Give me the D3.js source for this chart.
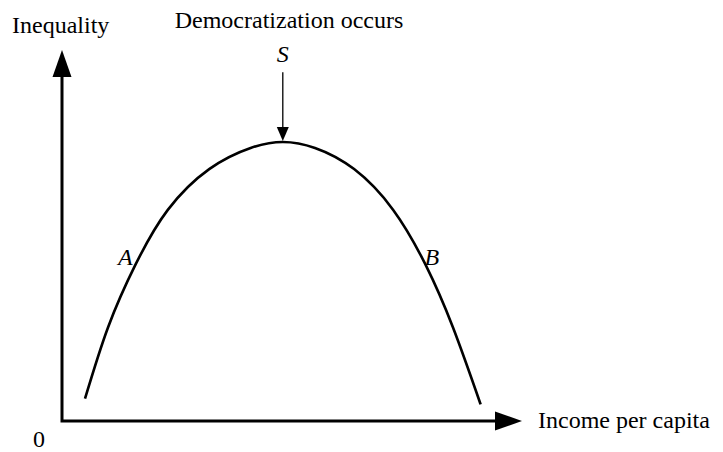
<!DOCTYPE html>
<html>
<head>
<meta charset="utf-8">
<script src="https://cdn.jsdelivr.net/npm/d3@7"></script>
<style>
  body { margin: 0; background: #fff; }
  text { font-family: "Liberation Serif", "Times New Roman", serif; fill: #000; }
</style>
</head>
<body>
<div id="chart"></div>
<script>
// Curve points (arbitrary 0-100 units)
const income = [5, 10, 16, 23, 32, 41, 48, 55, 63.5, 72, 79, 85, 91];
const inequality = [6, 25.2, 42.2, 56.9, 67.9, 73.6, 75.2, 73.6, 67.9, 56.9, 42.2, 25.2, 4.5];

// Annotation points
const pointLabels = ["A", "B"];
const pointIndex = [2, 10];
const peakIndex = 6;
const arrowTop = 94;

// Set the dimensions of the graph
const width = 723, height = 452;

const svg = d3.select("#chart")
    .append("svg")
    .attr("width", width)
    .attr("height", height);

// Scales: domain max is where the axis arrow tips are
const x = d3.scaleLinear().domain([0, 100]).range([62, 522]);
const y = d3.scaleLinear().domain([0, 100]).range([421, 50]);

const data = income.map((d, i) => ({ income: d, inequality: inequality[i] }));

// Axes (plain arrows, no ticks)
const headLen = 27, headHalf = 9.5;
svg.append("path")
    .attr("d", `M${x(0)},${y(100) + headLen - 2}V${y(0)}H${x(100) - headLen + 2}`)
    .attr("fill", "none")
    .attr("stroke", "#000")
    .attr("stroke-width", 3)
    .attr("stroke-linejoin", "miter");

// Y arrowhead
svg.append("path")
    .attr("d", `M${x(0)},${y(100)}L${x(0) + headHalf},${y(100) + headLen}L${x(0) - headHalf},${y(100) + headLen}Z`)
    .attr("fill", "#000");

// X arrowhead
svg.append("path")
    .attr("d", `M${x(100)},${y(0)}L${x(100) - headLen},${y(0) - headHalf}L${x(100) - headLen},${y(0) + headHalf}Z`)
    .attr("fill", "#000");

// The curve
svg.append("path")
    .datum(data)
    .attr("fill", "none")
    .attr("stroke", "#000")
    .attr("stroke-width", 2.6)
    .attr("d", d3.line()
        .x(d => x(d.income))
        .y(d => y(d.inequality))
        .curve(d3.curveNatural));

// Arrow to the peak
const peak = data[peakIndex];
const px = x(peak.income), py = y(peak.inequality) - 1;
svg.append("line")
    .attr("x1", px).attr("x2", px)
    .attr("y1", y(arrowTop)).attr("y2", py - 10)
    .attr("stroke", "#000")
    .attr("stroke-width", 1.3);
svg.append("path")
    .attr("d", `M${px},${py}L${px - 6},${py - 14}L${px + 6},${py - 14}Z`)
    .attr("fill", "#000");

// Texts
svg.append("text").attr("x", 12).attr("y", 33).style("font-size", "24px").text("Inequality");
svg.append("text").attr("x", 289).attr("y", 28).attr("text-anchor", "middle").style("font-size", "24px").text("Democratization occurs");
svg.append("text").attr("x", px).attr("y", 62).attr("text-anchor", "middle")
    .style("font-size", "24px").style("font-style", "italic").text("S");
svg.append("text").attr("x", x(100) + 16).attr("y", y(0) + 7).style("font-size", "24px").text("Income per capita");
svg.append("text").attr("x", 39).attr("y", 447).attr("text-anchor", "middle").style("font-size", "24px").text("0");

// A and B
pointLabels.forEach((lab, i) => {
    const d = data[pointIndex[i]];
    svg.append("text")
        .attr("x", i === 0 ? x(d.income) - 3 : x(d.income) - 1)
        .attr("y", y(d.inequality) + 1)
        .attr("text-anchor", i === 0 ? "end" : "start")
        .style("font-size", "24px")
        .style("font-style", "italic")
        .text(lab);
});
</script>
</body>
</html>
